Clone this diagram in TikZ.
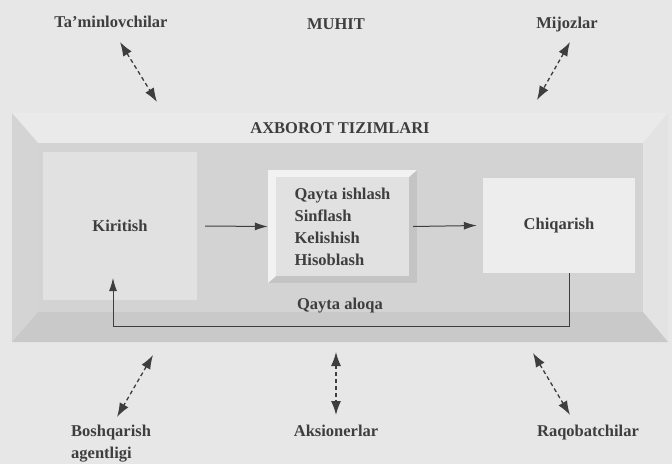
\documentclass[tikz,border=0pt]{standalone}
\usepackage{fontspec}
\setmainfont{Liberation Serif}
\usetikzlibrary{arrows.meta}
\definecolor{PageGray}{HTML}{E7E7E7}
\definecolor{FrameTop}{HTML}{EAEAEA}
\definecolor{FrameSide}{HTML}{D4D4D4}
\definecolor{FrameLight}{HTML}{E3E3E3}
\definecolor{FrameBottom}{HTML}{C9C9C9}
\definecolor{PanelGray}{HTML}{D3D3D3}
\definecolor{BoxLight}{HTML}{E1E1E1}
\definecolor{BoxWhite}{HTML}{EDEDED}
\definecolor{BevelDark}{HTML}{C4C4C4}
\definecolor{BevelLight}{HTML}{F2F2F2}
\definecolor{InkGray}{HTML}{3E3E3E}
\newcommand{\envlink}[2]{\draw[envarrow] (#1) -- (#2);}

\begin{document}
\begin{tikzpicture}[x=1pt,y=-1pt,font=\fontsize{16.5}{22}\selectfont\bfseries,
  txt/.style={inner sep=0pt,text=InkGray},
  stagebox/.style={txt,minimum width=#1,minimum height=148pt},
  envarrow/.style={{Latex[length=14pt,width=10pt]}-{Latex[length=14pt,width=10pt]},line width=1.3pt,dash pattern=on 4pt off 3pt,draw=InkGray},
  flow/.style={-{Latex[length=13pt,width=8pt]},line width=1pt,draw=InkGray}]
\useasboundingbox[fill=PageGray] (0,0) rectangle (672,464);
% bevelled frame of the system
\fill[FrameTop] (12,113) -- (668,113) -- (643,143) -- (38,143) -- cycle;
\fill[FrameSide] (12,113) -- (38,143) -- (38,312) -- (12,342) -- cycle;
\fill[FrameLight] (668,113) -- (643,143) -- (643,312) -- (668,342) -- cycle;
\fill[FrameBottom] (12,342) -- (38,312) -- (643,312) -- (668,342) -- cycle;
\fill[PanelGray] (38,143) rectangle (643,312);
\node[txt] (axb) at (340,128) {AXBOROT TIZIMLARI};
% stages
\node[stagebox=154pt,fill=BoxLight] (kir) at (120,226) {Kiritish};
\fill[BevelDark] (268,170) rectangle (417,283);
\fill[BevelLight] (268,170) -- (417,170) -- (409,177) -- (276,177) -- (276,276) -- (268,283) -- cycle;
\node[txt,fill=BoxLight,minimum width=133pt,minimum height=99pt,align=left] (proc) at (342.5,226.5) {Qayta ishlash\\Sinflash\\Kelishish\\Hisoblash};
\node[txt,fill=BoxWhite,minimum width=152pt,minimum height=95pt] (chiq) at (559,225.5) {Chiqarish};
\draw[flow] ([xshift=8pt]kir.east) -- ([xshift=-8pt]proc.west);
\draw[flow] ([xshift=4pt]proc.east) -- ([xshift=-6pt]chiq.west);
% feedback
\coordinate (fbR) at (569,326);
\coordinate (fbL) at (113,326);
\coordinate (kirIn) at (113,278);
\draw[flow] (chiq.south -| fbR) -- (fbR) -- (fbL) -- (kirIn);
\node[txt] (fb) at (340,306) {Qayta aloqa};
% environment
\node[txt] (muhit) at (336,24) {MUHIT};
\node[txt] (tam) at (111,22) {Ta'minlovchilar};
\node[txt] (mij) at (567,25) {Mijozlar};
\node[txt,align=left,anchor=west] (bosh) at (71,444) {Boshqarish\\agentligi};
\node[txt] (aks) at (336,431) {Aksionerlar};
\node[txt] (raq) at (588,433) {Raqobatchilar};
\coordinate (tamA) at (120,42);  \coordinate (tamB) at (157,102);
\coordinate (mijA) at (570,42);  \coordinate (mijB) at (537,100);
\coordinate (boshA) at (153,355); \coordinate (boshB) at (117,417);
\coordinate (aksA) at (336,352); \coordinate (aksB) at (336,415);
\coordinate (raqA) at (533,353); \coordinate (raqB) at (570,415);
\envlink{tamA}{tamB}
\envlink{mijA}{mijB}
\envlink{boshA}{boshB}
\envlink{aksA}{aksB}
\envlink{raqA}{raqB}
\end{tikzpicture}
\end{document}
